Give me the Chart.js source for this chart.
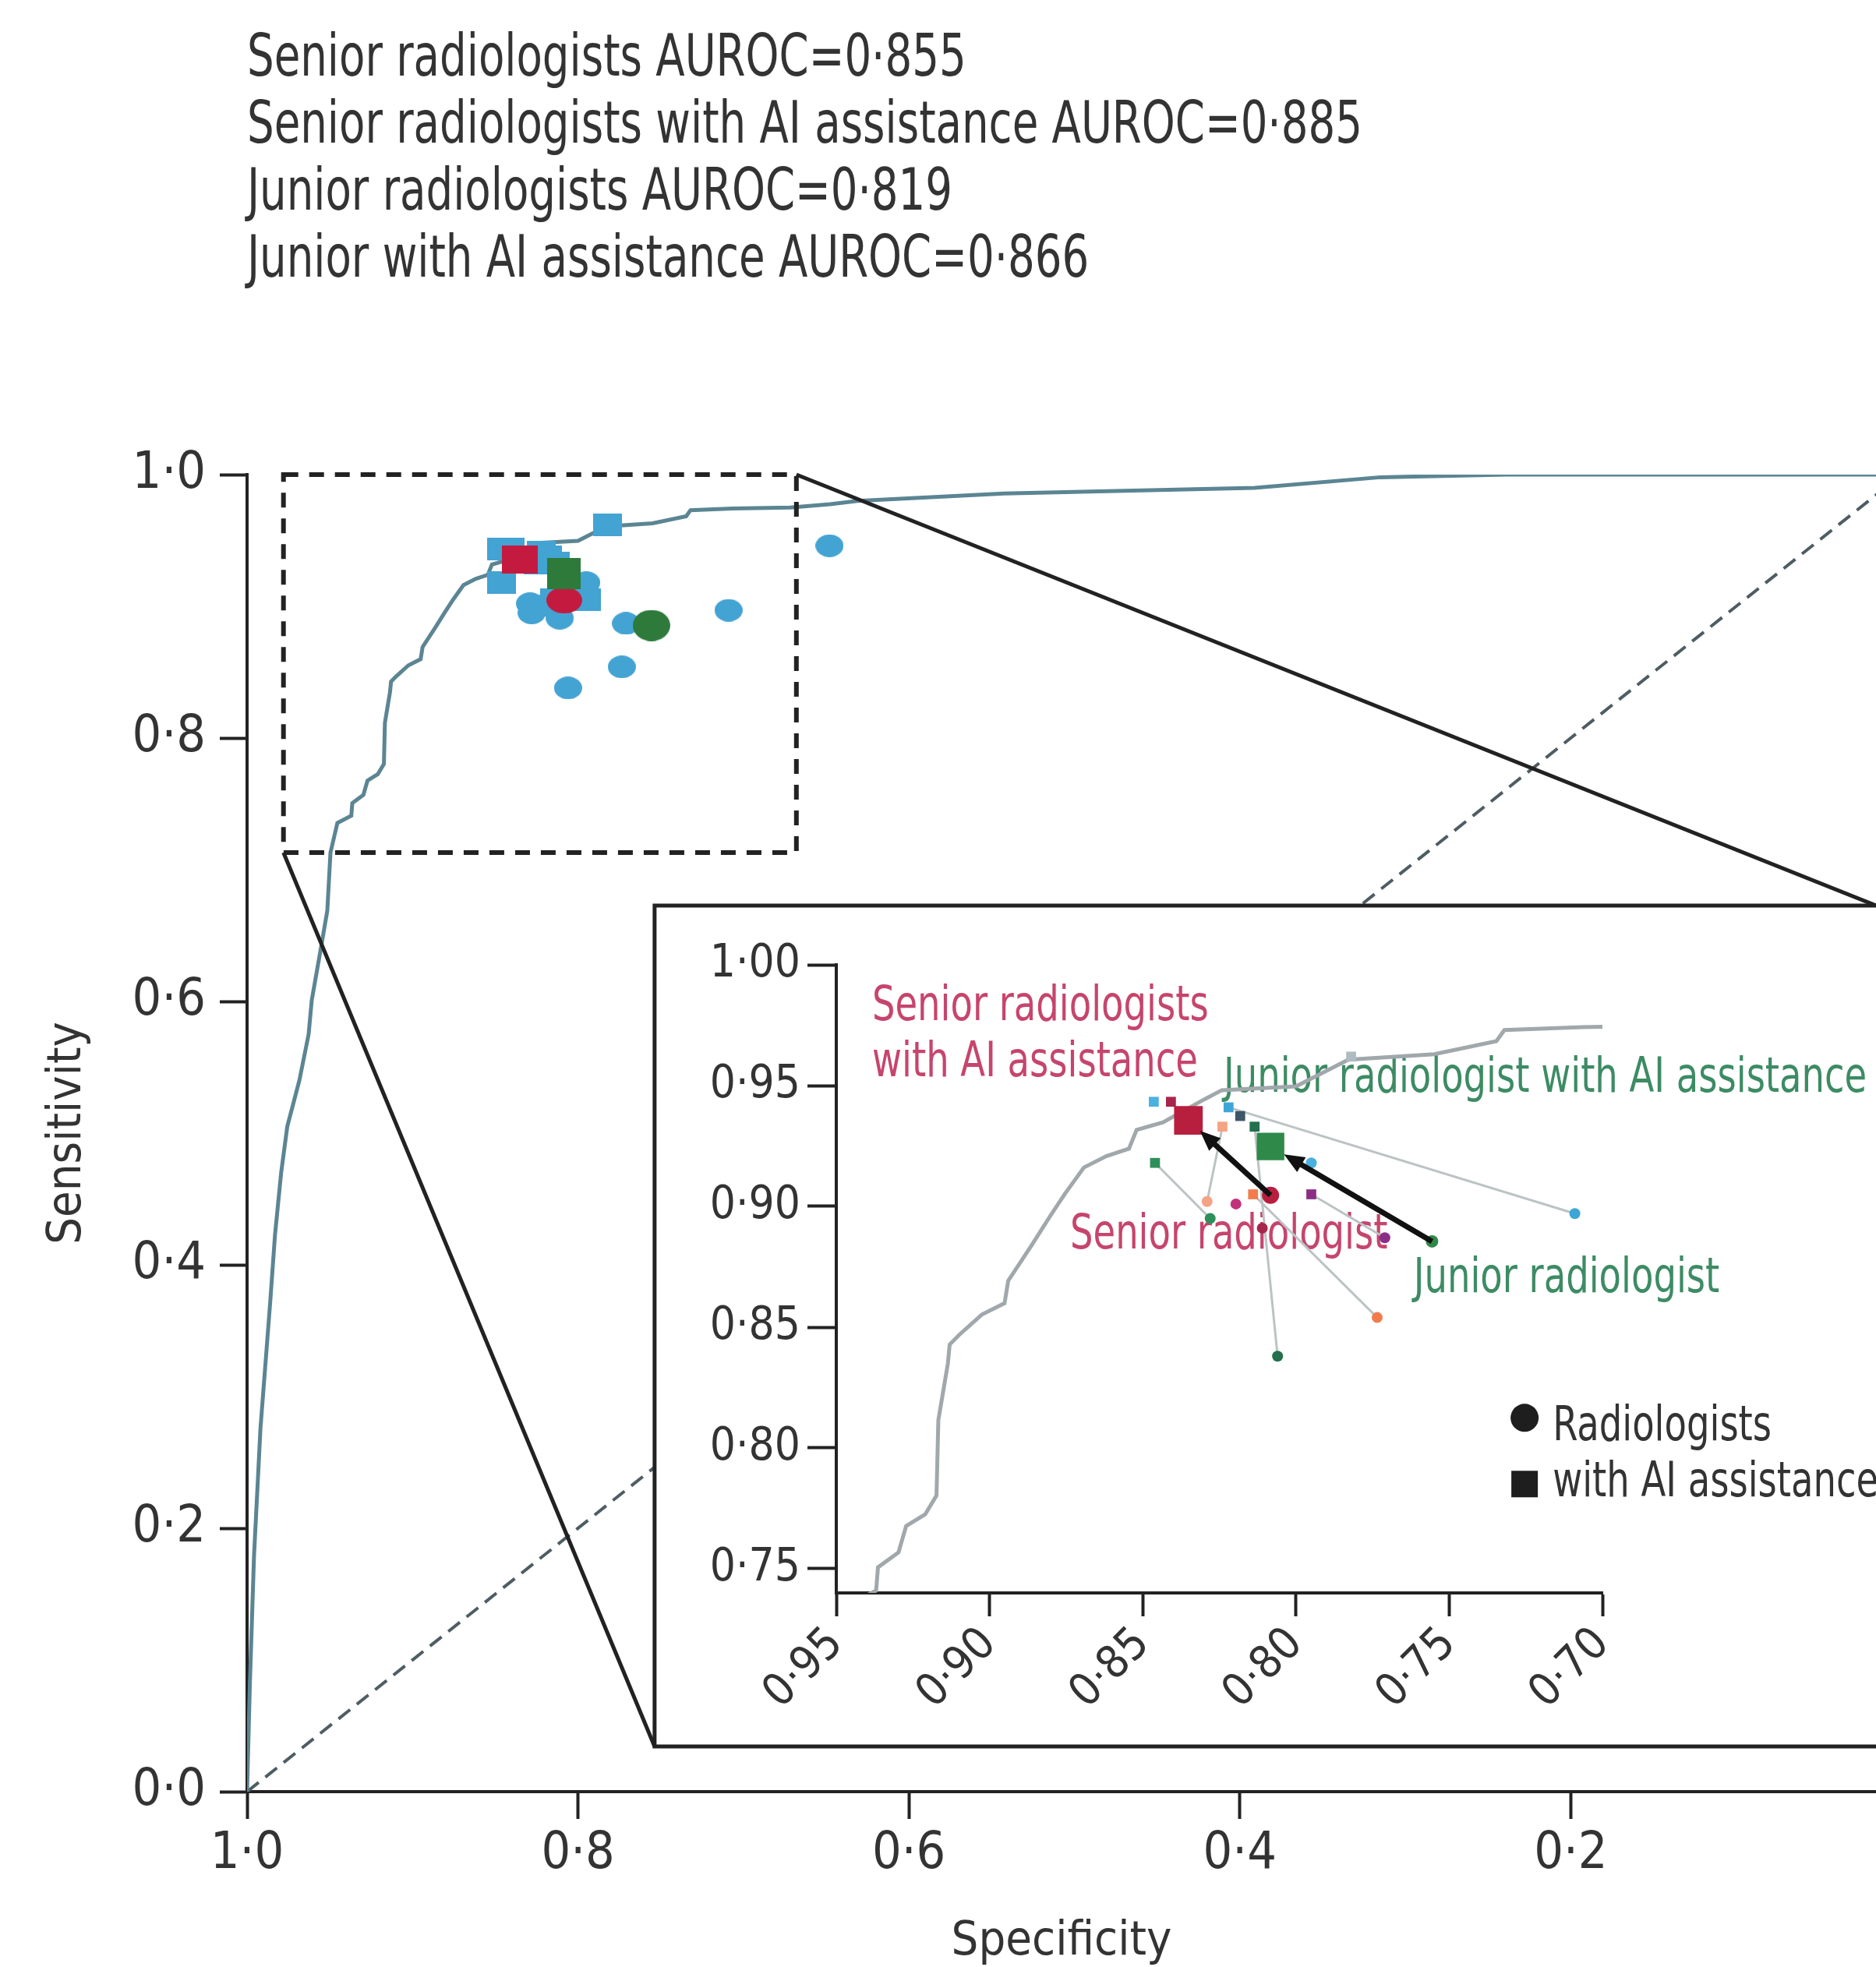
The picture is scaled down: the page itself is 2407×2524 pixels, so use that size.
<!DOCTYPE html>
<html>
<head>
<meta charset="utf-8">
<script src="https://cdn.jsdelivr.net/npm/chart.js@4/dist/chart.umd.min.js"></script>
<style>
  html, body { margin:0; padding:0; background:#fff; width:2407px; height:2524px; overflow:hidden; }
  #wrap { position:relative; width:2407px; height:2524px; }
  #title { position:absolute; left:317px; top:28px; font-family:"Liberation Sans Narrow","DejaVu Sans Condensed","Roboto Condensed",Lato,sans-serif;
           font-size:74px; line-height:86px; color:#333; white-space:nowrap; }
  #title div { transform: scaleX(0.82); transform-origin: 0 0; }
  #main { position:absolute; left:0; top:0; }
  #inset { position:absolute; }
</style>
</head>
<body>
<div id="wrap">
  <canvas id="main" width="2407" height="2524"></canvas>
  <canvas id="inset"></canvas>
  <div id="title">
    <div>Senior radiologists AUROC=0·855</div>
    <div>Senior radiologists with AI assistance AUROC=0·885</div>
    <div>Junior radiologists AUROC=0·819</div>
    <div>Junior with AI assistance AUROC=0·866</div>
  </div>
</div>
<script>
// ---------------- data ----------------
const specificityTicks = [0.2, 0.4, 0.6, 0.8, 1.0];
const sensitivityTicks = [0.0, 0.2, 0.4, 0.6, 0.8, 1.0];
const insetSpecificityTicks = [0.70, 0.75, 0.80, 0.85, 0.90, 0.95];
const insetSensitivityTicks = [0.75, 0.80, 0.85, 0.90, 0.95, 1.00];

// AI model ROC curve (specificity, sensitivity)
const rocSpecificity = [1.000,0.9983,0.9958,0.9919,0.9860,0.9831,0.9794,0.9757,0.9684,0.9628,0.9609,0.9553,0.9515,0.9496,0.9454,0.9370,0.9364,0.9297,0.9272,0.9210,0.9173,0.9167,0.9136,0.9130,0.9100,0.9025,0.8951,0.8939,0.8865,0.8803,0.8754,0.8692,0.8619,0.8545,0.8520,0.8434,0.8299,0.8242,0.8000,0.7829,0.7549,0.7346,0.7320,0.7066,0.6717,0.6477,0.6310,0.5425,0.3910,0.3150,0.2390,0.0000];
const rocSensitivity = [0.000,0.082,0.179,0.276,0.372,0.423,0.470,0.505,0.540,0.575,0.601,0.641,0.669,0.713,0.7355,0.741,0.7506,0.7568,0.7677,0.7725,0.7803,0.8115,0.8349,0.8428,0.8467,0.8552,0.8599,0.8692,0.8834,0.8958,0.9052,0.9161,0.9208,0.9239,0.9317,0.9348,0.9443,0.9481,0.9497,0.9607,0.963,0.9684,0.973,0.9742,0.975,0.9775,0.980,0.9857,0.990,0.998,1.0,1.0];

// chance line
const chanceSpecificity = [1.0, 0.0];
const chanceSensitivity = [0.0, 1.0];

// individual radiologists: alone and with AI assistance
const readerAloneSpec = [0.709, 0.829, 0.828, 0.806, 0.7735, 0.771, 0.8196, 0.795, 0.811, 0.648];
const readerAloneSens = [0.897, 0.902, 0.895, 0.838, 0.854, 0.887, 0.901, 0.918, 0.891, 0.946];
const readerAiSpec    = [0.822, 0.824, 0.846, 0.8135, 0.814, 0.795, 0.782, 0.8464, 0.8408, 0.8182];
const readerAiSens    = [0.941, 0.933, 0.918, 0.933, 0.905, 0.905, 0.962, 0.9433, 0.9433, 0.9374];
const readerColours   = ['#3ea6d6','#f4a383','#2f8f5b','#23704c','#f27c4e','#8a2f86','#c2317c','#4ab1e0','#a6264c','#3e5668'];
const readerAiColours = ['#3ea6d6','#f4a383','#2f8f5b','#23704c','#f27c4e','#8a2f86','#aebcc2','#4ab1e0','#a6264c','#3e5668'];
const readerLinked    = [true, true, true, true, true, true, false, false, false, false];

// group means: senior, junior
const meanGroups     = ['Senior radiologist', 'Junior radiologist'];
const meanAloneSpec  = [0.8083, 0.7556];
const meanAloneSens  = [0.9046, 0.8855];
const meanAiSpec     = [0.8351, 0.8083];
const meanAiSens     = [0.9356, 0.9248];

// ---------------- layout / style ----------------
const FONT = '"Liberation Sans Narrow","DejaVu Sans Condensed","Roboto Condensed",Lato,sans-serif';
const TXT = '#333';
const AXIS = '#222';
const SENIOR_TXT = '#c6456d', JUNIOR_TXT = '#3d8b64';
const MAIN_BLUE = '#43a3d3';
const MAIN_MEAN = ['#c41a40', '#2d7a3a'];
const INSET_MEAN = ['#b81f3e', '#2f8a4a'];
const X_MIN_MAIN = 0.0155;
const SQUEEZE = 0.82;
const zoomBox  = { specFrom: 0.978, specTo: 0.668, sensFrom: 0.713, sensTo: 1.0 };
const insetBox = { specFrom: 0.7537, specTo: X_MIN_MAIN, sensFrom: 0.0343, sensTo: 0.6728 };

const dot = (v, d) => Number(v).toFixed(d).replace('.', '\u00b7');
const pts = (xs, ys) => xs.map((x, i) => ({ x, y: ys[i] }));

// point-style images (the main panel's markers are slightly wider than tall)
function shape(kind, w, h, colour) {
  const c = document.createElement('canvas');
  c.width = w; c.height = h;
  const g = c.getContext('2d');
  g.fillStyle = colour;
  if (kind === 'ellipse') { g.beginPath(); g.ellipse(w / 2, h / 2, w / 2, h / 2, 0, 0, Math.PI * 2); g.fill(); }
  else { g.fillRect(0, 0, w, h); }
  return c;
}
const styleReaderAlone = shape('ellipse', 36, 29, MAIN_BLUE);
const styleReaderAi    = shape('rect', 37, 29, MAIN_BLUE);
const styleMeanAlone   = [shape('ellipse', 46, 34, MAIN_MEAN[0]), shape('ellipse', 48, 40, MAIN_MEAN[1])];
const styleMeanAi      = [shape('rect', 46, 36, MAIN_MEAN[0]), shape('rect', 43, 40, MAIN_MEAN[1])];

// ---------------- main chart ----------------
const mainDecor = {
  id: 'mainDecor',
  afterDatasetsDraw(chart) {
    const { ctx, scales: { x, y } } = chart;
    const L = x.getPixelForValue(insetBox.specFrom);
    const R = x.getPixelForValue(insetBox.specTo);
    const T = y.getPixelForValue(insetBox.sensTo);
    const B = y.getPixelForValue(insetBox.sensFrom);
    ctx.save();
    ctx.fillStyle = '#fff';
    ctx.fillRect(L, T, chart.width - L + 20, B - T);
    ctx.strokeStyle = AXIS;
    ctx.lineWidth = 5;
    ctx.beginPath();
    ctx.moveTo(chart.width + 20, T); ctx.lineTo(L, T); ctx.lineTo(L, B); ctx.lineTo(chart.width + 20, B);
    ctx.stroke();
    const zl = x.getPixelForValue(zoomBox.specFrom), zr = x.getPixelForValue(zoomBox.specTo);
    const zt = y.getPixelForValue(zoomBox.sensTo), zb = y.getPixelForValue(zoomBox.sensFrom);
    ctx.setLineDash([19, 14]);
    ctx.lineWidth = 6;
    ctx.strokeRect(zl, zt, zr - zl, zb - zt);
    ctx.setLineDash([]);
    ctx.lineWidth = 5;
    ctx.beginPath();
    ctx.moveTo(zl, zb); ctx.lineTo(L, B);
    ctx.moveTo(zr, zt); ctx.lineTo(R, T);
    ctx.stroke();
    ctx.restore();
  }
};

const mainChart = new Chart(document.getElementById('main'), {
  type: 'scatter',
  data: {
    datasets: [
      { label: 'Mean with AI', data: pts(meanAiSpec, meanAiSens), pointStyle: styleMeanAi,
        pointRadius: 22, backgroundColor: MAIN_MEAN, borderWidth: 0, order: 0 },
      { label: 'Mean alone', data: pts(meanAloneSpec, meanAloneSens), pointStyle: styleMeanAlone,
        pointRadius: 22, backgroundColor: MAIN_MEAN, borderWidth: 0, order: 1 },
      { label: 'Readers with AI', data: pts(readerAiSpec, readerAiSens), pointStyle: styleReaderAi,
        pointRadius: 18, backgroundColor: MAIN_BLUE, borderWidth: 0, order: 2 },
      { label: 'Readers alone', data: pts(readerAloneSpec, readerAloneSens), pointStyle: styleReaderAlone,
        pointRadius: 17, backgroundColor: MAIN_BLUE, borderWidth: 0, order: 3 },
      { label: 'AI ROC', data: pts(rocSpecificity, rocSensitivity), showLine: true, fill: false,
        borderColor: '#5b8593', borderWidth: 5, pointRadius: 0, tension: 0, order: 4 },
      { label: 'Chance', data: pts(chanceSpecificity, chanceSensitivity), showLine: true, fill: false,
        borderColor: '#4d5d63', borderWidth: 4, borderDash: [19, 11], pointRadius: 0, order: 5 }
    ]
  },
  options: {
    responsive: false, animation: false, devicePixelRatio: 1, events: [],
    plugins: { legend: { display: false }, tooltip: { enabled: false } },
    layout: { autoPadding: false, padding: { top: 609, left: 0, right: 0, bottom: 0 } },
    scales: {
      x: {
        type: 'linear', reverse: true, min: X_MIN_MAIN, max: 1.0,
        afterBuildTicks: s => { s.ticks = specificityTicks.map(v => ({ value: v })); },
        afterFit: s => { s.height = 225; s.paddingLeft = 0; s.paddingRight = 0; },
        ticks: { callback: v => dot(v, 1), font: { family: FONT, size: 66 }, color: TXT, padding: 6,
                 maxRotation: 0, minRotation: 0, autoSkip: false },
        grid: { drawOnChartArea: false, tickLength: 35, tickWidth: 4, tickColor: AXIS },
        border: { color: AXIS, width: 4 },
        title: { display: true, text: 'Specificity', color: TXT,
                 font: { family: FONT, size: 61, lineHeight: 0.86 }, padding: { top: 0, bottom: 6 } }
      },
      y: {
        type: 'linear', min: 0, max: 1.0,
        afterBuildTicks: s => { s.ticks = sensitivityTicks.map(v => ({ value: v })); },
        afterFit: s => { s.width = 317; },
        ticks: { callback: v => dot(v, 1), font: { family: FONT, size: 66 }, color: TXT, padding: 18, autoSkip: false },
        grid: { drawOnChartArea: false, tickLength: 35, tickWidth: 4, tickColor: AXIS },
        border: { color: AXIS, width: 4 },
        title: { display: true, text: 'Sensitivity', color: TXT,
                 font: { family: FONT, size: 61, lineHeight: 1.0 }, padding: { top: 57, bottom: 0 } }
      }
    }
  },
  plugins: [mainDecor]
});

// ---------------- inset chart ----------------
const xs = mainChart.scales.x, ys = mainChart.scales.y;
const iL = Math.round(xs.getPixelForValue(insetBox.specFrom));
const iT = Math.round(ys.getPixelForValue(insetBox.sensTo));
const iB = Math.round(ys.getPixelForValue(insetBox.sensFrom));
const insetCanvas = document.getElementById('inset');
insetCanvas.width = 2407 - iL;
insetCanvas.height = iB - iT;
insetCanvas.style.left = iL + 'px';
insetCanvas.style.top = iT + 'px';

const insetLabels = [
  { text: 'Senior radiologists', spec: 0.9383, sens: 0.9823, colour: SENIOR_TXT },
  { text: 'with AI assistance', spec: 0.9383, sens: 0.9591, colour: SENIOR_TXT },
  { text: 'Junior radiologist with AI assistance', spec: 0.8236, sens: 0.9526, colour: JUNIOR_TXT },
  { text: 'Senior radiologist', spec: 0.8737, sens: 0.8879, colour: SENIOR_TXT },
  { text: 'Junior radiologist', spec: 0.7616, sens: 0.8698, colour: JUNIOR_TXT }
];
const legendAnchor = { spec: 0.7254, sens: 0.8112 };

function squeezedText(ctx, text, px, py) {
  ctx.save();
  ctx.translate(px, py);
  ctx.scale(SQUEEZE, 1);
  ctx.fillText(text, 0, 0);
  ctx.restore();
}

const insetDecor = {
  id: 'insetDecor',
  beforeDatasetsDraw(chart) {
    const { ctx, scales: { x, y } } = chart;
    ctx.save();
    ctx.font = `63px ${FONT}`;
    ctx.textBaseline = 'middle';
    ctx.textAlign = 'left';
    insetLabels.forEach(l => {
      ctx.fillStyle = l.colour;
      squeezedText(ctx, l.text, x.getPixelForValue(l.spec), y.getPixelForValue(l.sens));
    });
    // legend
    const lx = x.getPixelForValue(legendAnchor.spec), ly = y.getPixelForValue(legendAnchor.sens);
    ctx.fillStyle = '#1e1e1e';
    ctx.beginPath(); ctx.arc(lx, ly - 4, 18, 0, Math.PI * 2); ctx.fill();
    ctx.fillRect(lx - 17, ly + 64, 34, 34);
    ctx.fillStyle = TXT;
    squeezedText(ctx, 'Radiologists', lx + 36, ly + 8);
    squeezedText(ctx, 'with AI assistance', lx + 36, ly + 80);
    ctx.restore();
  },
  afterDatasetsDraw(chart) {
    const { ctx, scales: { x, y } } = chart;
    ctx.save();
    ctx.strokeStyle = '#111'; ctx.fillStyle = '#111';
    meanAloneSpec.forEach((s, i) => {
      const x0 = x.getPixelForValue(s), y0 = y.getPixelForValue(meanAloneSens[i]);
      const x1 = x.getPixelForValue(meanAiSpec[i]), y1 = y.getPixelForValue(meanAiSens[i]);
      const len = Math.hypot(x1 - x0, y1 - y0), dx = (x1 - x0) / len, dy = (y1 - y0) / len;
      const tipX = x1 - dx * 20, tipY = y1 - dy * 20;
      const head = 26, half = 11;
      const bx = tipX - dx * head, by = tipY - dy * head;
      ctx.lineWidth = 7;
      ctx.beginPath(); ctx.moveTo(x0, y0); ctx.lineTo(bx + dx * 4, by + dy * 4); ctx.stroke();
      ctx.beginPath();
      ctx.moveTo(tipX, tipY);
      ctx.lineTo(bx - dy * half, by + dx * half);
      ctx.lineTo(bx + dy * half, by - dx * half);
      ctx.closePath(); ctx.fill();
    });
    ctx.restore();
  }
};

const insetDatasets = [
  { label: 'Mean with AI', data: pts(meanAiSpec, meanAiSens), pointStyle: 'rect',
    pointRadius: [26, 25], backgroundColor: INSET_MEAN, borderWidth: 0, order: 0 },
  { label: 'Mean alone', data: pts(meanAloneSpec, meanAloneSens), pointStyle: 'circle',
    pointRadius: [11, 8], backgroundColor: INSET_MEAN, borderWidth: 0, order: 1 },
  { label: 'Readers with AI', data: pts(readerAiSpec, readerAiSens), pointStyle: 'rect',
    pointRadius: 9, backgroundColor: readerAiColours, borderWidth: 0, order: 2 },
  { label: 'Readers alone', data: pts(readerAloneSpec, readerAloneSens), pointStyle: 'circle',
    pointRadius: 7, backgroundColor: readerColours, borderWidth: 0, order: 3 },
  { label: 'AI ROC', data: pts(rocSpecificity, rocSensitivity), showLine: true, fill: false,
    borderColor: '#a0a8ab', borderWidth: 5, pointRadius: 0, tension: 0, order: 5 }
];
readerAloneSpec.forEach((s, i) => {
  if (!readerLinked[i]) return;
  insetDatasets.push({ label: 'Reader ' + (i + 1), data: [{ x: s, y: readerAloneSens[i] }, { x: readerAiSpec[i], y: readerAiSens[i] }],
    showLine: true, fill: false, borderColor: '#bcc3c5', borderWidth: 3, pointRadius: 0, order: 4 });
});

new Chart(insetCanvas, {
  type: 'scatter',
  data: { datasets: insetDatasets },
  options: {
    responsive: false, animation: false, devicePixelRatio: 1, events: [],
    plugins: { legend: { display: false }, tooltip: { enabled: false } },
    layout: { autoPadding: false, padding: { top: 1238 - iT, left: 0, right: 2407 - 2056, bottom: 0 } },
    scales: {
      x: {
        type: 'linear', reverse: true, min: 0.70, max: 0.95,
        afterBuildTicks: s => { s.ticks = insetSpecificityTicks.map(v => ({ value: v })); },
        afterFit: s => { s.height = iB - 2044; },
        ticks: { callback: v => dot(v, 2), font: { family: FONT, size: 58 }, color: TXT, padding: 2,
                 maxRotation: 45, minRotation: 45, autoSkip: false },
        grid: { drawOnChartArea: false, tickLength: 30, tickWidth: 4, tickColor: AXIS },
        border: { color: AXIS, width: 4 }
      },
      y: {
        type: 'linear', min: 0.74, max: 1.0,
        afterBuildTicks: s => { s.ticks = insetSensitivityTicks.map(v => ({ value: v })); },
        afterFit: s => { s.width = 1073 - iL; },
        ticks: { callback: v => dot(v, 2), font: { family: FONT, size: 58 }, color: TXT, padding: 9, autoSkip: false },
        grid: { drawOnChartArea: false, tickLength: 37, tickWidth: 4, tickColor: AXIS },
        border: { color: AXIS, width: 4 }
      }
    }
  },
  plugins: [insetDecor]
});
</script>
</body>
</html>
